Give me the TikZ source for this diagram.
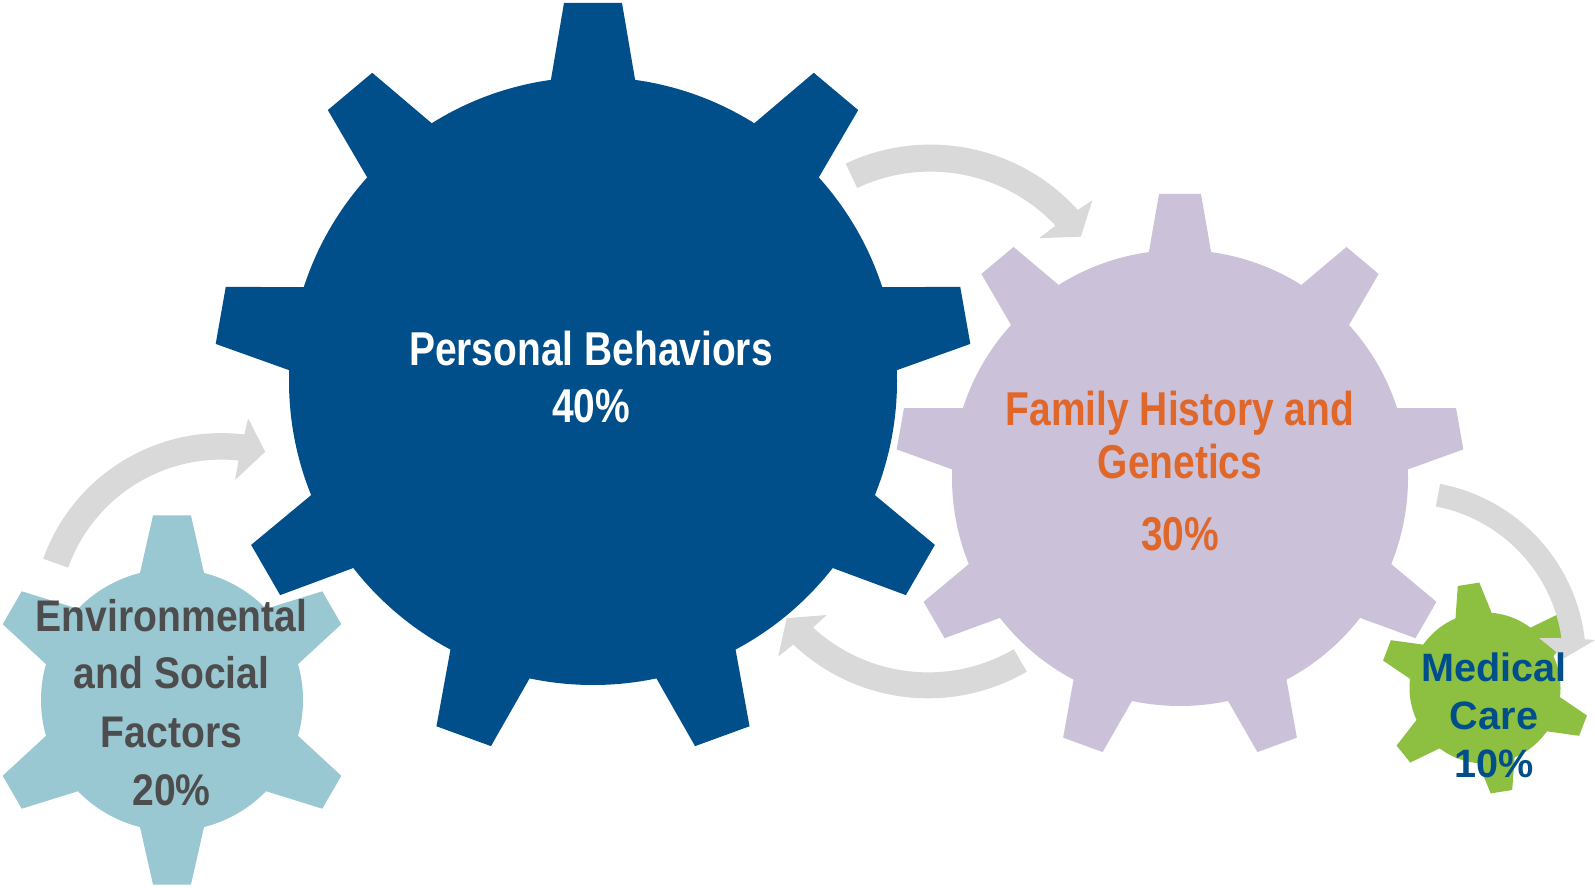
\documentclass[tikz,border=0pt]{standalone}
\usepackage{fontspec}
\setmainfont{Liberation Sans}
\newfontfamily\narrowsans{Liberation Sans}[FakeStretch=0.82]
\newfontfamily\envsans{Liberation Sans}[FakeStretch=0.883]

\definecolor{pbblue}{HTML}{004F8B}
\definecolor{fhlilac}{HTML}{CBC2DA}
\definecolor{esblue}{HTML}{99C8D2}
\definecolor{mcgreen}{HTML}{8DBF40}
\definecolor{fhorange}{HTML}{E0672A}
\definecolor{esgray}{HTML}{4D4D4D}
\definecolor{arrowgray}{HTML}{D9D9D9}

% gear: centre, colour, teeth, first tooth angle, body radius,
% tooth base radius, outer radius, base half width, top half width
\newcommand{\cog}[9]{%
  \fill[#2] (#1) circle[radius=#5pt];
  \foreach \k in {1,...,#3}{
    \pgfmathsetmacro\ang{#4+360/#3*(\k-1)}
    \fill[#2, shift={(#1)}, rotate=\ang] (#6pt,-#8pt) -- (#7pt,-#9pt) -- (#7pt,#9pt) -- (#6pt,#8pt) -- cycle;
  }
}

\begin{document}
\begin{tikzpicture}[x=1pt,y=1pt,
    cyclearrow/.style={fill=arrowgray},
    pblabel/.style={anchor=base,inner sep=0pt,text=white,font=\narrowsans\bfseries\fontsize{47.5}{57}\selectfont},
    fhlabel/.style={anchor=base,inner sep=0pt,text=fhorange,font=\narrowsans\bfseries\fontsize{47.5}{57}\selectfont},
    eslabel/.style={anchor=base,inner sep=0pt,text=esgray,font=\envsans\bfseries\fontsize{44.3}{53}\selectfont},
    mclabel/.style={anchor=base,inner sep=0pt,text=pbblue,font=\bfseries\fontsize{39.6}{48}\selectfont}]
    \fill[white] (0,0) rectangle (1595,887);
    \useasboundingbox (0,0) rectangle (1595,887);

    \coordinate (pbc) at (593,506);
    \coordinate (fhc) at (1180,409);
    \coordinate (esc) at (172,187);
    \coordinate (mcc) at (1485,199);

    % gears
    \cog{pbc}{pbblue}{9}{90}{304}{290}{378}{44}{29}
    \cog{fhc}{fhlilac}{9}{90}{228}{215}{284}{33}{21}
    \cog{esc}{esblue}{6}{90}{131}{115}{184.5}{34.7}{19}
    \cog{mcc}{mcgreen}{6}{99}{75.5}{66}{105}{20}{10.9}

    % circular arrows
    \begin{scope}[shift={(221.6,264.4)}]
        \fill[cyclearrow] (160.3:189.5pt) arc[start angle=160.3,end angle=83.1,radius=189.5pt]
            -- (82.6:206pt) -- (75.7:176.3pt) -- (84.6:143.2pt)
            -- (84.0:163pt) arc[start angle=84.0,end angle=160.3,radius=163pt] -- cycle;
    \end{scope}
    \begin{scope}[shift={(930.4,543.4)}]
        \fill[cyclearrow] (115.2:199pt) arc[start angle=115.2,end angle=42.2,radius=199pt]
            -- (41.5:216.2pt) -- (35.4:184.6pt) -- (44.1:151.5pt)
            -- (43.3:172pt) arc[start angle=43.3,end angle=115.2,radius=172pt] -- cycle;
    \end{scope}
    \begin{scope}[shift={(928.1,384.6)}]
        \fill[cyclearrow] (-59.75:195.9pt) arc[start angle=-59.75,end angle=-133.5,radius=195.9pt]
            -- (-134.2:215pt) -- (-140.7:182.8pt) -- (-132:151.5pt)
            -- (-132.6:170pt) arc[start angle=-132.6,end angle=-59.75,radius=170pt] -- cycle;
    \end{scope}
    \begin{scope}[shift={(1406.5,226.8)}]
        \fill[cyclearrow] (79.2:179.5pt) arc[start angle=79.2,end angle=6.7,radius=179.5pt]
            -- (6.1:189.6pt) -- (0.7:157.5pt) -- (9.4:134.6pt)
            -- (8.1:156.5pt) arc[start angle=8.1,end angle=79.2,radius=156.5pt] -- cycle;
    \end{scope}

    % labels
    \node[pblabel] (pb1) at (591,521) {Personal Behaviors};
    \node[pblabel] (pb2) at (591,464.7) {40\%};

    \node[fhlabel] (fh1) at (1180,461) {Family History and};
    \node[fhlabel] (fh2) at (1180,408) {Genetics};
    \node[fhlabel] (fh3) at (1180,336.3) {30\%};

    \node[eslabel] (es1) at (171.5,256) {Environmental};
    \node[eslabel] (es2) at (171.5,199) {and Social};
    \node[eslabel] (es3) at (171.5,140) {Factors};
    \node[eslabel] (es4) at (171.5,82) {20\%};

    \node[mclabel] (mc1) at (1494,206) {Medical};
    \node[mclabel] (mc2) at (1494,157.7) {Care};
    \node[mclabel] (mc3) at (1494,109.7) {10\%};
\end{tikzpicture}
\end{document}
